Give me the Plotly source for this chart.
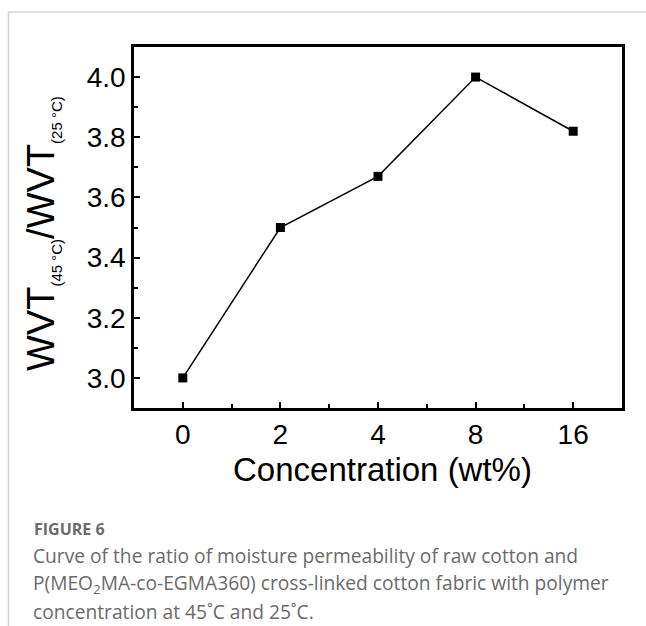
import plotly.graph_objects as go

categories = ["0", "2", "4", "8", "16"]
ratio = [3.00, 3.50, 3.67, 4.00, 3.82]
y_ticks = [3.0, 3.2, 3.4, 3.6, 3.8, 4.0]

caption_head = "FIGURE 6"
caption_lines = [
    "Curve of the ratio of moisture permeability of raw cotton and",
    "P(MEO<sub>2</sub>MA-co-EGMA360) cross-linked cotton fabric with polymer",
    "concentration at 45˚C and 25˚C.",
]

W, H = 646, 626
L, R, T, B = 134, 622, 47, 408


def px2x(px):
    return (px - L) / (R - L)


def px2y(py):
    return (B - py) / (B - T)


xpos = list(range(len(categories)))

fig = go.Figure()
fig.add_trace(go.Scatter(
    x=xpos, y=ratio, mode="lines+markers",
    line=dict(color="black", width=1.5),
    marker=dict(symbol="square", size=9, color="black"),
    showlegend=False,
))

tick_font = dict(family="Liberation Sans, Arial, sans-serif", size=28, color="black")

fig.update_xaxes(
    range=[-0.5, 4.5], tickmode="array", tickvals=xpos, ticktext=categories,
    showline=True, mirror=True, linecolor="black", linewidth=2.5,
    ticks="inside", ticklen=6, tickwidth=2, tickcolor="black",
    minor=dict(tickmode="linear", tick0=0, dtick=0.5, ticks="inside", ticklen=4, tickwidth=2, tickcolor="black"),
    showgrid=False, zeroline=False, tickfont=tick_font,
)
fig.update_yaxes(
    range=[2.9, 4.1], tickmode="array", tickvals=y_ticks, ticktext=[f"{v:.1f}" for v in y_ticks],
    showline=True, mirror=True, linecolor="black", linewidth=2.5,
    ticks="inside", ticklen=6, tickwidth=2, tickcolor="black",
    minor=dict(tickmode="linear", tick0=2.9, dtick=0.1, ticks="inside", ticklen=4, tickwidth=2, tickcolor="black"),
    showgrid=False, zeroline=False, tickfont=tick_font,
)

annotations = [
    dict(text="Concentration (wt%)", xref="paper", yref="paper", x=px2x(382), y=px2y(469),
         xanchor="center", yanchor="middle", showarrow=False,
         font=dict(family="Liberation Sans, Arial, sans-serif", size=33, color="black")),
    dict(text='WVT<sub><span style="font-size:15px">(45 °C)</span></sub>/WVT<sub><span style="font-size:15px">(25 °C)</span></sub>',
         xref="paper", yref="paper", x=px2x(43), y=px2y(234), textangle=-90,
         xanchor="center", yanchor="middle", showarrow=False,
         font=dict(family="Liberation Sans, Arial, sans-serif", size=38, color="black")),
    dict(text="<b>" + caption_head + "</b>", xref="paper", yref="paper", x=px2x(32), y=px2y(529),
         xanchor="left", yanchor="middle", showarrow=False,
         font=dict(family="Open Sans, Noto Sans, sans-serif", size=16, color="#6a6a6a")),
]
for i, line in enumerate(caption_lines):
    annotations.append(dict(
        text=line, xref="paper", yref="paper", x=px2x(31), y=px2y(555.5 + i * 28),
        xanchor="left", yanchor="middle", showarrow=False,
        font=dict(family="Open Sans, Noto Sans, sans-serif", size=19.2, color="#6a6a6a")))

shapes = [
    dict(type="line", xref="paper", yref="paper", x0=px2x(8), x1=px2x(W), y0=px2y(12), y1=px2y(12),
         line=dict(color="#d3d3d3", width=1.5)),
    dict(type="line", xref="paper", yref="paper", x0=px2x(8.5), x1=px2x(8.5), y0=px2y(12), y1=px2y(H),
         line=dict(color="#d3d3d3", width=1.5)),
]

fig.update_layout(
    width=W, height=H,
    margin=dict(l=L, r=W - R, t=T, b=H - B),
    plot_bgcolor="white", paper_bgcolor="white",
    annotations=annotations, shapes=shapes,
)

fig.write_html("out.html")
